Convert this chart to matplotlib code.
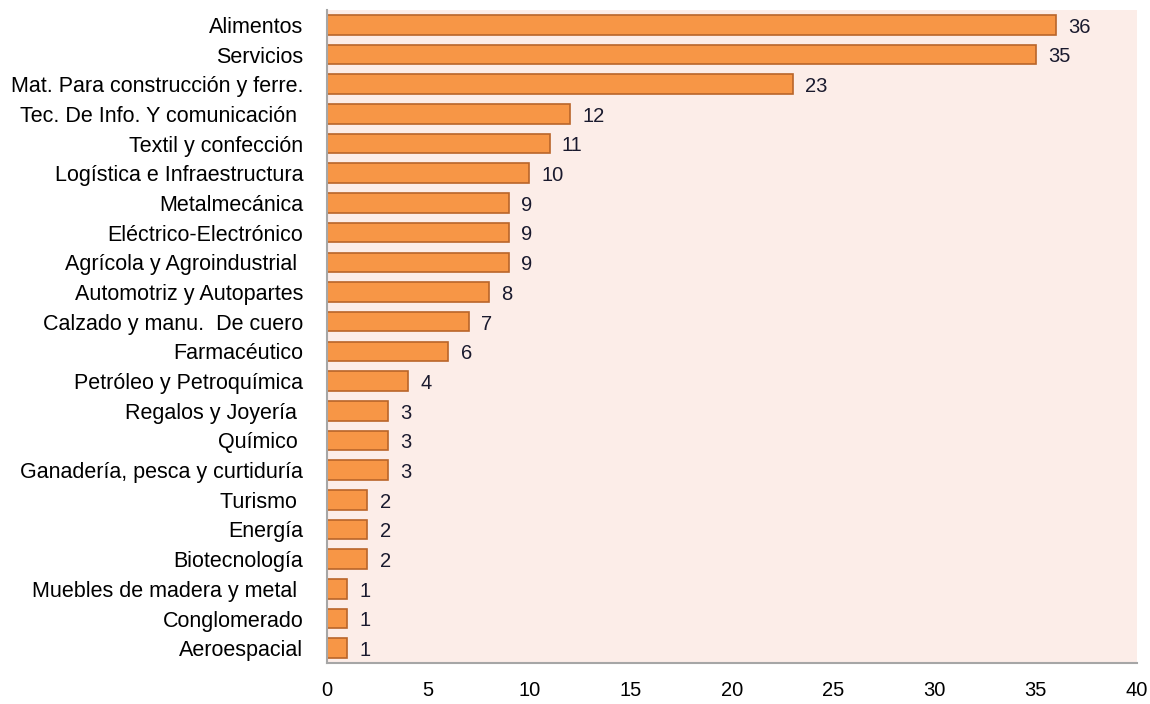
import matplotlib
matplotlib.use("Agg")
import matplotlib.pyplot as plt

# datos
sectores = [
    "Alimentos", "Servicios", "Mat. Para construcción y ferre.",
    "Tec. De Info. Y comunicación ", "Textil y confección",
    "Logística e Infraestructura", "Metalmecánica", "Eléctrico-Electrónico",
    "Agrícola y Agroindustrial ", "Automotriz y Autopartes",
    "Calzado y manu.  De cuero", "Farmacéutico", "Petróleo y Petroquímica",
    "Regalos y Joyería ", "Químico ", "Ganadería, pesca y curtiduría",
    "Turismo ", "Energía", "Biotecnología", "Muebles de madera y metal ",
    "Conglomerado", "Aeroespacial",
]
empresas = [36, 35, 23, 12, 11, 10, 9, 9, 9, 8, 7, 6, 4, 3, 3, 3, 2, 2, 2, 1, 1, 1]
ticks_x = [0, 5, 10, 15, 20, 25, 30, 35, 40]

plt.rcParams['font.family'] = ['Liberation Sans', 'DejaVu Sans']

fig = plt.figure(figsize=(11.5, 7.04), dpi=100)
ax = fig.add_axes([0.2843, 0.0582, 0.7044, 0.9276])
ax.set_facecolor('#FCEDE8')

pos = list(range(len(sectores)))
bars = ax.barh(pos, empresas, height=0.66, color='#F79646',
               edgecolor='#B9652A', linewidth=1.2)

for b, v in zip(bars, empresas):
    ax.text(b.get_width() + 0.6, b.get_y() + b.get_height() / 2 + 0.08, str(v),
            va='center', ha='left', fontsize=14.5, color='#1a1a2e')

ax.set_ylim(len(sectores) - 0.5, -0.5)
ax.set_xlim(0, 40)
ax.set_yticks(pos)
ax.set_yticklabels(sectores, fontsize=15.5)
ax.set_xticks(ticks_x)
ax.tick_params(axis='x', labelsize=14.5, length=0, pad=13)
ax.tick_params(axis='y', length=0, pad=17)

for s in ['top', 'right']:
    ax.spines[s].set_visible(False)
for s in ['left', 'bottom']:
    ax.spines[s].set_color('#A6A6A6')
    ax.spines[s].set_linewidth(1.5)

fig.savefig('out.png', dpi=100, facecolor='white')
